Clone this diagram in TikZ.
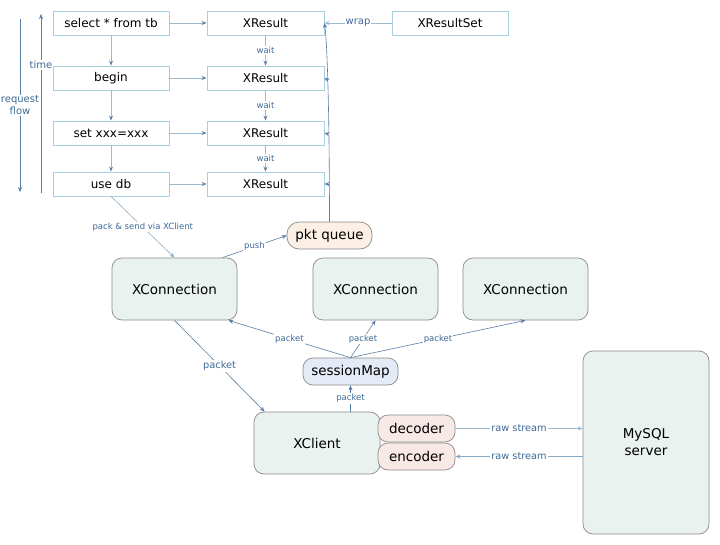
\documentclass[tikz,border=0pt]{standalone}
\usepackage{fontspec}
\setmainfont{DejaVu Sans}
\usetikzlibrary{arrows.meta,calc}
\definecolor{boxline}{HTML}{A8CFE0}
\definecolor{lbl}{HTML}{3E6A97}
\definecolor{arr}{HTML}{5A7FA5}
\definecolor{lightarr}{HTML}{9DBBD0}
\definecolor{rbline}{HTML}{8A8A8A}
\definecolor{greenfill}{HTML}{E9F2EF}
\definecolor{orangefill}{HTML}{FCEFE3}
\definecolor{bluefill}{HTML}{E5EBF6}
\definecolor{pinkfill}{HTML}{F8E9E6}
\tikzset{
  sqbox/.style={draw=boxline, line width=0.9pt, fill=white, minimum width=116pt, minimum height=24pt, inner sep=0pt, font=\fontsize{12}{14}\selectfont},
  rbox/.style={draw=rbline, line width=0.7pt, rounded corners=10pt, fill=greenfill, inner sep=0pt, font=\fontsize{13.5}{17}\selectfont},
  conn/.style={draw=arr, line width=0.6pt, -{Stealth[length=5pt,width=4pt]}},
  lconn/.style={draw=lightarr, line width=0.8pt, -{Stealth[length=5pt,width=4pt,color=arr]}},
  lab/.style={midway, fill=white, inner sep=1pt, text=lbl, font=\fontsize{8.5}{10}\selectfont},
  labb/.style={midway, fill=white, inner sep=1pt, text=lbl, font=\fontsize{9.8}{11}\selectfont}
}
\begin{document}
\begin{tikzpicture}[x=1pt,y=-1pt]
\useasboundingbox (0,0) rectangle (720,544);
\fill[white] (0,0) rectangle (720,544);

% left request boxes
\node[sqbox] (s1) at (111,23) {select * from tb};
\node[sqbox] (s2) at (111,78) {begin};
\node[sqbox] (s3) at (111,133) {set xxx=xxx};
\node[sqbox] (s4) at (111,184) {use db};
% XResult boxes
\node[sqbox, minimum width=117pt] (r1) at (265.5,23) {XResult};
\node[sqbox, minimum width=117pt] (r2) at (265.5,78) {XResult};
\node[sqbox, minimum width=117pt] (r3) at (265.5,133) {XResult};
\node[sqbox, minimum width=117pt] (r4) at (265.5,184) {XResult};
\node[sqbox] (rs) at (450,23) {XResultSet};

% time / request flow
\coordinate (tb) at (41,193);
\coordinate (tt) at (41,14);
\draw[conn] (tb) -- (tt) node[pos=0.715, fill=white, inner sep=1pt, text=lbl, font=\fontsize{10}{12}\selectfont] {time};
\coordinate (ft) at (20,19);
\coordinate (fb) at (20,192);
\draw[conn] (ft) -- (fb) node[pos=0.50, fill=white, inner sep=1pt, align=center, text=lbl, font=\fontsize{10}{12}\selectfont] {request\\flow};

% request chain
\draw[lconn] (s1) -- (s2);
\draw[lconn] (s2) -- (s3);
\draw[lconn] (s3) -- (s4);
\draw[lconn] (s1) -- (r1);
\draw[lconn] (s2) -- (r2);
\draw[lconn] (s3) -- (r3);
\draw[lconn] (s4) -- (r4);
\draw[lconn] (r1) -- (r2) node[lab] {wait};
\draw[lconn] (r2) -- (r3) node[lab] {wait};
\draw[lconn] (r3) -- (r4) node[lab] {wait};
\draw[conn, draw=lightarr, line width=0.8pt] (rs) -- (r1) node[midway, fill=white, inner sep=1pt, text=lbl, font=\fontsize{10}{12}\selectfont] {wrap};

% lower nodes
\node[rbox, rounded corners=12pt, fill=orangefill, minimum width=85pt, minimum height=27pt] (pq) at (329.5,235.5) {pkt queue};
\node[rbox, minimum width=125pt, minimum height=62pt] (x1) at (174.5,289) {XConnection};
\node[rbox, minimum width=125pt, minimum height=62pt] (x2) at (375.5,289) {XConnection};
\node[rbox, minimum width=125pt, minimum height=62pt] (x3) at (525.5,289) {XConnection};
\node[rbox, fill=bluefill, minimum width=95pt, minimum height=27pt] (sm) at (350.5,371.5) {sessionMap};
\node[rbox, minimum width=126pt, minimum height=62pt] (xc) at (317,443) {XClient};
\node[rbox, fill=pinkfill, minimum width=77pt, minimum height=27pt] (dec) at (416.5,428.5) {decoder};
\node[rbox, fill=pinkfill, minimum width=77pt, minimum height=27pt] (enc) at (416.5,456.5) {encoder};
\node[rbox, minimum width=126pt, minimum height=183pt, align=center] (my) at (646,442.5) {MySQL\\server};

% pkt queue to XResults
\coordinate (q1) at (328.6,184);
\coordinate (q2) at (328.2,134);
\coordinate (q3) at (327.6,80);
\draw[conn] (pq.north) .. controls (329.5,140) and (328,50) .. (r1.east);
\draw[conn] (q1) -- (r4.east);
\draw[conn] (q2) -- (r3.east);
\draw[conn] (q3) -- (r2.east);

% connectors
\draw[conn, draw=lightarr!80!arr] (s4.south) -- (x1.north) node[lab] {pack \& send via XClient};
\draw[conn] ([xshift=-15pt]x1.north east) -- (pq.west) node[lab] {push};
\draw[conn] (sm.north) -- ([xshift=-9pt]x1.south east) node[lab] {packet};
\draw[conn] (sm.north) -- (x2.south) node[lab] {packet};
\draw[conn] (sm.north) -- (x3.south) node[lab] {packet};
\draw[conn] (x1.south) -- ([xshift=11pt]xc.north west) node[labb] {packet};
\draw[conn] (sm.south |- xc.north) -- (sm.south) node[lab] {packet};
\draw[conn, draw=lightarr, line width=0.8pt] (dec.east) -- (dec.east -| my.west) node[labb] {raw stream};
\draw[conn, draw=lightarr!70!arr, line width=0.8pt] (enc.east -| my.west) -- (enc.east) node[labb] {raw stream};
\end{tikzpicture}
\end{document}
